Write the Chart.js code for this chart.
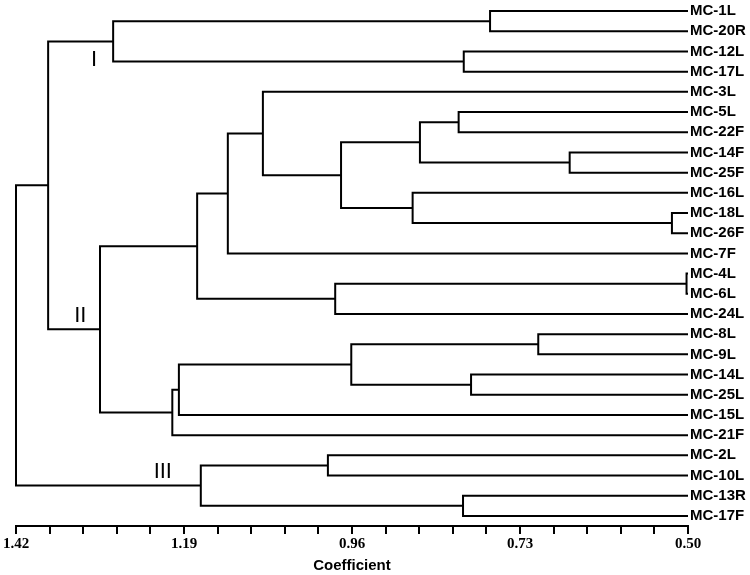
<!DOCTYPE html>
<html>
<head>
<meta charset="utf-8">
<script src="https://cdn.jsdelivr.net/npm/chart.js@4.4.0/dist/chart.umd.min.js"></script>
<style>
  html, body { margin: 0; padding: 0; background: #fff; }
  #wrap { width: 750px; height: 575px; position: relative; }
</style>
</head>
<body>
<div id="wrap"><canvas id="dendro"></canvas></div>
<script>
// leaf order, top to bottom
const leafNames = [
  'MC-1L', 'MC-20R', 'MC-12L', 'MC-17L', 'MC-3L', 'MC-5L', 'MC-22F', 'MC-14F', 'MC-25F',
  'MC-16L', 'MC-18L', 'MC-26F', 'MC-7F', 'MC-4L', 'MC-6L', 'MC-24L', 'MC-8L', 'MC-9L',
  'MC-14L', 'MC-25L', 'MC-15L', 'MC-21F', 'MC-2L', 'MC-10L', 'MC-13R', 'MC-17F'
];

// merges: [left, right, coefficient]; leaves are 0..25, new nodes numbered from 26
const merges = [
  [0, 1, 0.771],    // 26
  [2, 3, 0.807],    // 27
  [26, 27, 1.287],  // 28  cluster I
  [7, 8, 0.662],    // 29
  [5, 6, 0.814],    // 30
  [30, 29, 0.867],  // 31
  [10, 11, 0.522],  // 32
  [9, 32, 0.877],   // 33
  [31, 33, 0.975],  // 34
  [4, 34, 1.082],   // 35
  [35, 12, 1.130],  // 36
  [13, 14, 0.502],  // 37
  [37, 15, 0.983],  // 38
  [36, 38, 1.172],  // 39
  [16, 17, 0.705],  // 40
  [18, 19, 0.797],  // 41
  [40, 41, 0.961],  // 42
  [42, 20, 1.197],  // 43
  [43, 21, 1.206],  // 44
  [39, 44, 1.305],  // 45  cluster II
  [28, 45, 1.376],  // 46
  [22, 23, 0.993],  // 47
  [24, 25, 0.808],  // 48
  [47, 48, 1.167],  // 49  cluster III
  [46, 49, 1.420]   // 50  root
];

const leafHeight = 0.50;
const axisMax = 1.42;
const tickStep = 0.046;
const tickCount = 21;

const clusterLabels = [
  { text: 'I', coef: 1.313, row: 2.4 },
  { text: 'II', coef: 1.332, row: 15.1 },
  { text: 'III', coef: 1.219, row: 22.8 }
];

// node positions: height and row (leaves = index, internal = mid of children)
const nodeH = leafNames.map(() => leafHeight);
const nodeY = leafNames.map((_, i) => i);
merges.forEach(([a, b, h]) => {
  nodeH.push(h);
  nodeY.push((nodeY[a] + nodeY[b]) / 2);
});

const datasets = merges.map(([a, b, h]) => ({
  data: [
    { x: nodeH[a], y: nodeY[a] },
    { x: h, y: nodeY[a] },
    { x: h, y: nodeY[b] },
    { x: nodeH[b], y: nodeY[b] }
  ],
  showLine: true,
  borderColor: '#000',
  borderWidth: 2,
  pointRadius: 0,
  tension: 0,
  clip: false
}));

const clusterLabelPlugin = {
  id: 'clusterLabels',
  afterDatasetsDraw(chart) {
    const { ctx, scales } = chart;
    ctx.save();
    ctx.fillStyle = '#000';
    ctx.font = '22px "Liberation Sans", Arial, sans-serif';
    ctx.textAlign = 'center';
    ctx.textBaseline = 'middle';
    clusterLabels.forEach(l => {
      ctx.fillText(l.text, scales.x.getPixelForValue(l.coef), scales.y.getPixelForValue(l.row));
    });
    ctx.restore();
  }
};

new Chart(document.getElementById('dendro'), {
  type: 'scatter',
  data: { datasets },
  options: {
    responsive: true,
    maintainAspectRatio: false,
    animation: false,
    layout: { padding: { left: 16, top: 1, right: 0, bottom: 0 } },
    plugins: {
      legend: { display: false },
      tooltip: { enabled: false }
    },
    scales: {
      x: {
        type: 'linear',
        reverse: true,
        min: leafHeight,
        max: axisMax,
        afterBuildTicks: scale => {
          scale.ticks = [];
          for (let k = 0; k < tickCount; k++) {
            scale.ticks.push({ value: +(axisMax - k * tickStep).toFixed(3) });
          }
        },
        afterFit: scale => {
          scale.paddingLeft = 0;
        },
        ticks: {
          autoSkip: false,
          maxRotation: 0,
          padding: 1,
          color: '#000',
          font: { family: '"Liberation Serif", "Times New Roman", serif', size: 15, weight: 'bold' },
          callback: (v, i) => i % 5 === 0 ? v.toFixed(2) : ''
        },
        grid: { drawOnChartArea: false, tickLength: 8, color: '#000', lineWidth: 2 },
        border: { display: true, color: '#000', width: 2 },
        title: {
          display: true,
          text: 'Coefficient',
          color: '#000',
          padding: { top: 3, bottom: 0 },
          font: { family: '"Liberation Sans", Arial, sans-serif', size: 15, weight: 'bold' }
        }
      },
      y: {
        type: 'linear',
        position: 'right',
        reverse: true,
        min: -0.5,
        max: 25.5,
        afterBuildTicks: scale => {
          scale.ticks = leafNames.map((_, i) => ({ value: i }));
        },
        afterFit: scale => {
          scale.width = 62;
          scale.paddingTop = 0;
          scale.paddingBottom = 0;
        },
        ticks: {
          autoSkip: false,
          padding: 2,
          color: '#000',
          font: { family: '"Liberation Sans", Arial, sans-serif', size: 15, weight: 'bold' },
          callback: v => leafNames[v]
        },
        grid: { display: false, drawTicks: false },
        border: { display: false }
      }
    }
  },
  plugins: [clusterLabelPlugin]
});
</script>
</body>
</html>
